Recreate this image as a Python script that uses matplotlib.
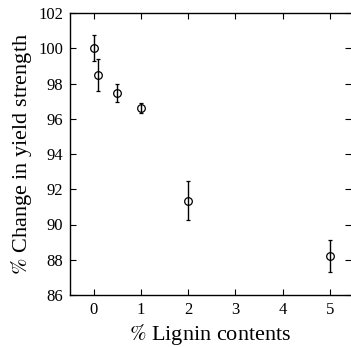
import numpy as np
import matplotlib.pyplot as plt

plt.rcParams['font.family'] = 'Liberation Serif'
plt.rcParams['mathtext.fontset'] = 'stix'

# lignin content (%) and change in yield strength (%)
lignin = [0, 0.1, 0.5, 1, 2, 5]
strength = [100.0, 98.5, 97.45, 96.6, 91.35, 88.2]
err = [0.75, 0.9, 0.5, 0.3, 1.1, 0.9]

fig = plt.figure(figsize=(3.51, 3.47), dpi=100)
ax = fig.add_axes([70/351, 1-295/347, 281/351, 282/347])

ax.errorbar(lignin, strength, yerr=err, fmt='o', mfc='none', mec='black',
            ecolor='black', ms=5.5, mew=0.9, elinewidth=1.0, capsize=1.5, capthick=1.0)

ax.set_xlim(-0.5, 5.45)
ax.set_ylim(86, 102)
ax.set_xticks([0, 1, 2, 3, 4, 5])
ax.set_yticks(np.arange(86, 103, 2))
ax.tick_params(direction='in', top=True, right=True, labelsize=12, length=4, width=0.8, pad=5)
for s in ax.spines.values():
    s.set_linewidth(1.0)
ax.spines['right'].set_visible(False)

ax.set_xlabel(r'$\%$ Lignin contents', fontsize=16, labelpad=3)
ax.set_ylabel(r'$\%$ Change in yield strength', fontsize=16, labelpad=3)

plt.savefig('out.png', dpi=100)
